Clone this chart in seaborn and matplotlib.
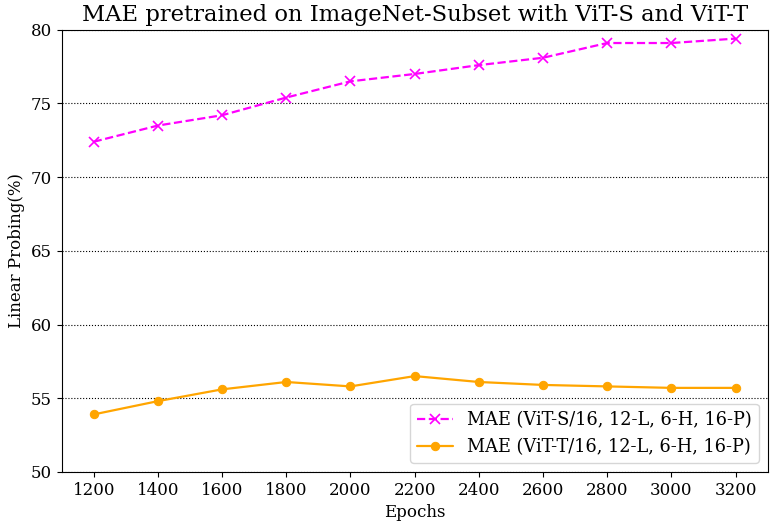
import numpy as np
import matplotlib
matplotlib.use("Agg")
import matplotlib.pyplot as plt
import seaborn as sns
import pandas as pd

epochs = [1200, 1400, 1600, 1800, 2000, 2200, 2400, 2600, 2800, 3000, 3200]
vit_s = [72.4, 73.5, 74.2, 75.4, 76.5, 77.0, 77.6, 78.1, 79.1, 79.1, 79.4]
vit_t = [53.9, 54.8, 55.6, 56.1, 55.8, 56.5, 56.1, 55.9, 55.8, 55.7, 55.7]
label_s = "MAE (ViT-S/16, 12-L, 6-H, 16-P)"
label_t = "MAE (ViT-T/16, 12-L, 6-H, 16-P)"

sns.set_style("ticks", {"text.color": "black", "axes.labelcolor": "black",
                        "xtick.color": "black", "ytick.color": "black",
                        "axes.edgecolor": "black"})
plt.rcParams["font.family"] = ["DejaVu Serif"]

fig, ax = plt.subplots(figsize=(7.7, 5.22), dpi=100)

sns.lineplot(x=epochs, y=vit_s, ax=ax, color="magenta", linestyle="--",
             marker="x", markersize=7, markeredgecolor="magenta",
             markeredgewidth=1.2, linewidth=1.6, label=label_s)
sns.lineplot(x=epochs, y=vit_t, ax=ax, color="orange", linestyle="-",
             marker="o", markersize=6, markeredgecolor="orange",
             linewidth=1.6, label=label_t)

ax.set_ylim(50, 80)
ax.set_xticks(epochs)
ax.tick_params(labelsize=12, colors="black")
ax.yaxis.grid(True, linestyle=":", color="black", linewidth=0.8)
ax.xaxis.grid(False)
ax.set_xlabel("Epochs", fontsize=12)
ax.set_ylabel("Linear Probing(%)", fontsize=12)
ax.set_title("MAE pretrained on ImageNet-Subset with ViT-S and ViT-T", fontsize=16.3)
ax.legend(loc="lower right", fontsize=12.8)
for sp in ax.spines.values():
    sp.set_visible(True)
    sp.set_color("black")

plt.subplots_adjust(left=0.08, right=0.997, top=0.943, bottom=0.096)
plt.savefig("out.png", dpi=100)
